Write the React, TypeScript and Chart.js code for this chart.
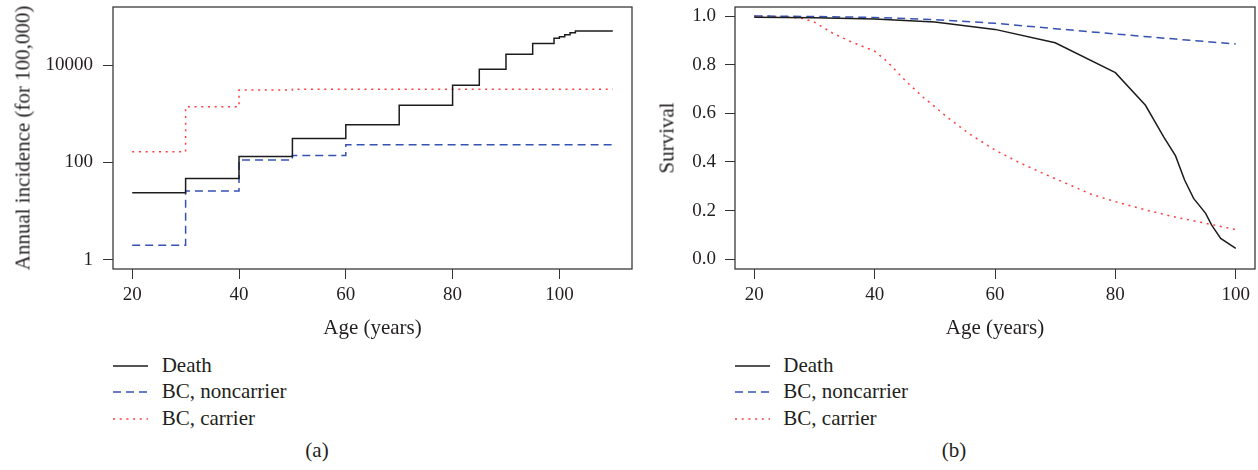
import React, { useEffect, useRef } from "react";
import { Chart, registerables } from "chart.js";

Chart.register(...registerables);

// ---------- Panel (a): annual incidence ----------
const deathIncAges = [20, 30, 40, 50, 60, 70, 80, 85, 90, 95, 99, 100, 101, 102, 103, 110];
const deathIncValues = [24, 47, 132, 309, 594, 1490, 3830, 8150, 16600, 27500, 35500, 38000, 41700, 45700, 50000, 50000];
const noncarrierIncAges = [20, 30, 40, 50, 60, 110];
const noncarrierIncValues = [2.0, 26, 112, 140, 232, 232];
const carrierIncAges = [20, 30, 40, 50, 110];
const carrierIncValues = [167, 1390, 3080, 3200, 3200];
const incidenceTicks = [1, 100, 10000];
const ageTicksA = [20, 40, 60, 80, 100];

// ---------- Panel (b): survival ----------
const deathSurvAges = [20, 30, 40, 50, 60, 70, 80, 85, 88, 90, 91.5, 93, 95, 96, 97.5, 100];
const deathSurvValues = [0.995, 0.993, 0.988, 0.975, 0.945, 0.89, 0.767, 0.633, 0.504, 0.425, 0.326, 0.25, 0.189, 0.14, 0.086, 0.045];
const noncarrierSurvAges = [20, 30, 40, 50, 60, 70, 80, 90, 100];
const noncarrierSurvValues = [1.0, 0.998, 0.994, 0.985, 0.97, 0.948, 0.926, 0.905, 0.885];
const carrierSurvAges = [20, 25, 28, 30, 33, 36, 40, 42, 45, 48, 50, 52, 56, 60, 64, 68, 72, 76, 80, 85, 90, 95, 100];
const carrierSurvValues = [1.0, 0.997, 0.99, 0.975, 0.93, 0.895, 0.855, 0.815, 0.737, 0.667, 0.627, 0.585, 0.511, 0.449, 0.398, 0.353, 0.31, 0.267, 0.237, 0.203, 0.173, 0.148, 0.122];
const survivalTicks = [0, 0.2, 0.4, 0.6, 0.8, 1.0];
const ageTicksB = [20, 40, 60, 80, 100];

const seriesNames = ["Death", "BC, noncarrier", "BC, carrier"];

const FONT = "'Liberation Serif', 'Times New Roman', serif";
const TEXT = "#231f20";
const BLACK = "#1c1c1c";
const BLUE = "#3652b2";
const RED = "#ff3c3c";
const DASH = [8, 5];
const DOT = [2, 4.7];

const boxPlugin = {
  id: "rbox",
  afterDraw(chart: any) {
    const { ctx, chartArea } = chart;
    const { left, top, right, bottom } = chartArea;
    ctx.save();
    ctx.strokeStyle = "#3a3a3a";
    ctx.lineWidth = 1.3;
    ctx.strokeRect(left, top, right - left, bottom - top);
    ctx.restore();
  },
};

function pts(xs: number[], ys: number[]) {
  return xs.map((x, i) => ({ x, y: ys[i] }));
}

function axisCommon(tickValues: number[], fmt: (v: number) => string, fit: (s: any) => void, padding: number) {
  return {
    afterBuildTicks: (s: any) => {
      s.ticks = tickValues.map((v) => ({ value: v }));
    },
    afterFit: fit,
    grid: {
      display: true,
      drawOnChartArea: false,
      drawTicks: true,
      tickLength: 10,
      color: "#333",
      lineWidth: 1,
    },
    border: { display: false },
    ticks: {
      autoSkip: false,
      maxRotation: 0,
      minRotation: 0,
      padding: padding,
      color: TEXT,
      font: { family: FONT, size: 19 },
      callback: (v: any) => fmt(Number(v)),
    },
  };
}

function ChartCanvas({ makeConfig, style, width, height }: any) {
  const ref = useRef<HTMLCanvasElement>(null);
  useEffect(() => {
    const chart = new Chart(ref.current as HTMLCanvasElement, makeConfig());
    return () => chart.destroy();
  }, []);
  return <canvas ref={ref} width={width} height={height} style={{ position: "absolute", width, height, ...style }} />;
}

const lineDs = (label: string, data: any[], color: string, dash: number[], stepped: boolean) => ({
  label,
  data,
  borderColor: color,
  borderWidth: 1.5,
  borderDash: dash,
  borderCapStyle: "butt",
  pointRadius: 0,
  fill: false,
  tension: 0,
  stepped: stepped ? "before" : false,
});

const makeConfigA = () => ({
  type: "line",
  data: {
    datasets: [
      lineDs(seriesNames[0], pts(deathIncAges, deathIncValues), BLACK, [], true),
      lineDs(seriesNames[1], pts(noncarrierIncAges, noncarrierIncValues), BLUE, DASH, true),
      lineDs(seriesNames[2], pts(carrierIncAges, carrierIncValues), RED, DOT, true),
    ],
  },
  options: {
    animation: false,
    responsive: false,
    maintainAspectRatio: false,
    layout: { padding: { left: 0, top: 37, right: 38, bottom: 0 } },
    plugins: { legend: { display: false }, tooltip: { enabled: false } },
    scales: {
      x: {
        type: "linear",
        min: 16.4,
        max: 113.6,
        ...axisCommon(ageTicksA, (v) => String(v), (s: any) => { s.height = 61; }, 5),
      },
      y: {
        type: "logarithmic",
        min: 0.653,
        max: 155000,
        ...axisCommon(incidenceTicks, (v) => String(v), (s: any) => { s.width = 113; }, 10),
      },
    },
  },
  plugins: [boxPlugin],
});

const makeConfigB = () => ({
  type: "line",
  data: {
    datasets: [
      lineDs(seriesNames[0], pts(deathSurvAges, deathSurvValues), BLACK, [], false),
      lineDs(seriesNames[1], pts(noncarrierSurvAges, noncarrierSurvValues), BLUE, DASH, false),
      lineDs(seriesNames[2], pts(carrierSurvAges, carrierSurvValues), RED, DOT, false),
    ],
  },
  options: {
    animation: false,
    responsive: false,
    maintainAspectRatio: false,
    layout: { padding: { left: 0, top: 37, right: 35, bottom: 0 } },
    plugins: { legend: { display: false }, tooltip: { enabled: false } },
    scales: {
      x: {
        type: "linear",
        min: 16.8,
        max: 103.2,
        ...axisCommon(ageTicksB, (v) => String(v), (s: any) => { s.height = 61; }, 5),
      },
      y: {
        type: "linear",
        min: -0.04,
        max: 1.037,
        ...axisCommon(survivalTicks, (v) => v.toFixed(1), (s: any) => { s.width = 95; }, 9),
      },
    },
  },
  plugins: [boxPlugin],
});

const textBase: React.CSSProperties = {
  position: "absolute",
  fontFamily: FONT,
  fontSize: 21,
  lineHeight: "21px",
  color: TEXT,
  whiteSpace: "nowrap",
};

function Centered({ x, y, children, rotate }: any) {
  return (
    <div
      style={{
        ...textBase,
        left: x,
        top: y,
        transform: `translate(-50%, -50%)${rotate ? " rotate(-90deg)" : ""}`,
      }}
    >
      {children}
    </div>
  );
}

function Legend({ lineX, textX, ys }: any) {
  const styles = [
    { color: BLACK, dash: "" },
    { color: BLUE, dash: DASH.join(" ") },
    { color: RED, dash: DOT.join(" ") },
  ];
  return (
    <>
      {seriesNames.map((name, i) => (
        <React.Fragment key={name}>
          <svg
            width={36}
            height={6}
            style={{ position: "absolute", left: lineX, top: ys[i] + 1 - 3 }}
          >
            <line
              x1={0}
              y1={3}
              x2={35}
              y2={3}
              stroke={styles[i].color}
              strokeWidth={1.5}
              strokeDasharray={styles[i].dash || undefined}
            />
          </svg>
          <div style={{ ...textBase, left: textX, top: ys[i], transform: "translateY(-50%)" }}>{name}</div>
        </React.Fragment>
      ))}
    </>
  );
}

export default function App() {
  const legendYs = [364.5, 391.2, 417.8];
  return (
    <div
      style={{
        position: "fixed",
        left: 0,
        top: 0,
        width: 1258,
        height: 470,
        overflow: "hidden",
        background: "#fff",
      }}
    >
      <ChartCanvas makeConfig={makeConfigA} width={670} height={360} style={{ left: 0, top: -30 }} />
      <ChartCanvas makeConfig={makeConfigB} width={650} height={360} style={{ left: 640, top: -30 }} />

      <Centered x={22.5} y={138} rotate>
        Annual incidence (for 100,000)
      </Centered>
      <Centered x={372.5} y={326.5}>Age (years)</Centered>
      <Centered x={667} y={138} rotate>
        Survival
      </Centered>
      <Centered x={995} y={326.5}>Age (years)</Centered>

      <Legend lineX={113} textX={161.7} ys={legendYs} />
      <Legend lineX={735} textX={783.3} ys={legendYs} />

      <Centered x={317} y={450}>(a)</Centered>
      <Centered x={954} y={450}>(b)</Centered>
    </div>
  );
}
